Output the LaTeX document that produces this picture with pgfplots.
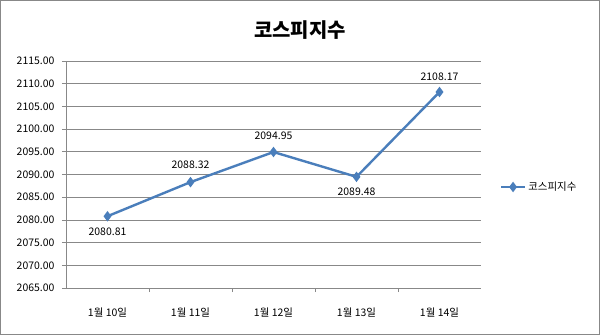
\documentclass[border=0pt]{standalone}
\usepackage{pgfplots}
\pgfplotsset{compat=1.18}
\usepackage{fontspec}
\setmainfont{Noto Sans CJK KR}
\definecolor{serie}{HTML}{4A7EBB}
\definecolor{gridc}{HTML}{888888}
\begin{document}
\begin{tikzpicture}
\useasboundingbox (0,0) rectangle (600bp,335bp);
\draw[color=gridc, line width=0.8bp] (0.5bp,0.5bp) rectangle (599.5bp,334.5bp);
\node[font=\fontsize{20}{24}\selectfont\bfseries] at (300bp,305bp) {코스피지수};
\begin{axis}[
  at={(66bp,47bp)}, anchor=south west,
  scale only axis, width=415bp, height=227bp,
  xmin=-0.5, xmax=4.5, ymin=2065, ymax=2115,
  xtick={0,1,2,3,4},
  xticklabels={1월 10일,1월 11일,1월 12일,1월 13일,1월 14일},
  minor xtick={0.5,1.5,2.5,3.5},
  ytick={2065,2070,...,2115},
  major x tick style={draw=none},
  minor tick length=4bp, major tick length=4bp,
  tick align=outside,
  axis x line*=bottom, axis y line*=left,
  axis line style={-, color=gridc, line width=0.8bp},
  tick style={color=gridc, line width=0.8bp},
  ymajorgrids, grid style={color=gridc, line width=0.8bp},
  yticklabel style={xshift=-4bp, /pgf/number format/.cd, fixed, fixed zerofill, precision=2, 1000 sep={}},
  /pgf/number format/assume math mode=true,
  ticklabel style={font=\fontsize{10.5}{12}\selectfont},
  xticklabel style={yshift=-12bp},
  legend style={at={(1.045,0.445)}, anchor=west, draw=none, font=\fontsize{10.5}{12}\selectfont, inner sep=0pt},
  legend cell align=left,
  legend image code/.code={\draw[#1] (0bp,0bp) -- (24bp,0bp); \draw[#1, mark repeat=1] plot coordinates {(12bp,0bp)};},
  clip=false,
]
\addplot[color=serie, line width=2.4bp, mark=diamond*, mark size=3.3bp, mark options={solid, fill=serie},
  nodes near coords, point meta=explicit symbolic,
  visualization depends on={\thisrow{dy}\as\dy},
  every node near coord/.append style={anchor=center, yshift=\dy bp, font=\fontsize{10.5}{12}\selectfont, color=black}]
  table[meta=lab] {
x y lab dy
0 2080.81 2080.81 -16
1 2088.32 2088.32 17
2 2094.95 2094.95 16
3 2089.48 2089.48 -15
4 2108.17 2108.17 15
};
\addlegendentry{코스피지수}
\end{axis}
\end{tikzpicture}
\end{document}
